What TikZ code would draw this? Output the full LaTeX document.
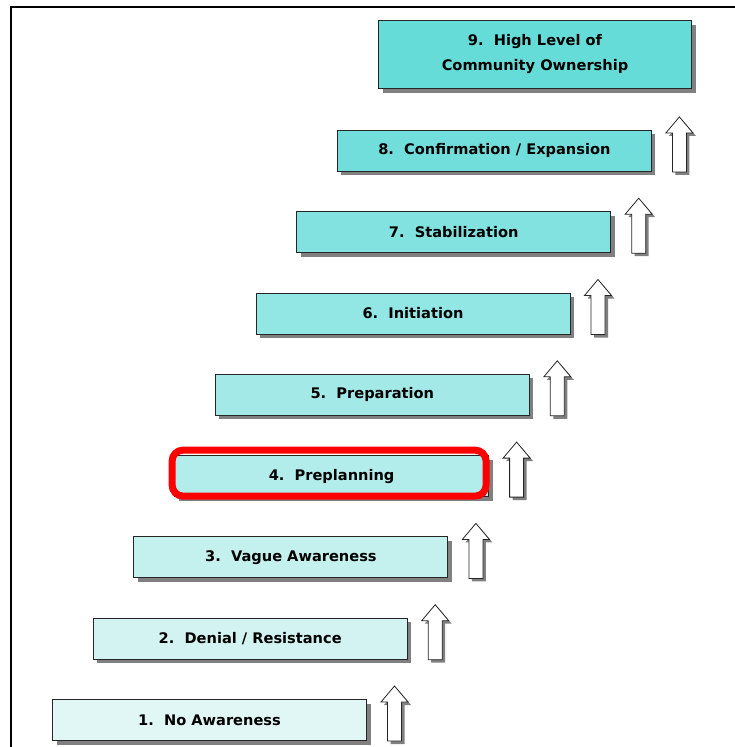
\documentclass[tikz,border=0pt]{standalone}
\usepackage{fontspec}
\setmainfont{DejaVu Sans}
\usetikzlibrary{shadows}
\definecolor{c1}{HTML}{E0F7F6}
\definecolor{c2}{HTML}{D2F3F2}
\definecolor{c3}{HTML}{C4F0EE}
\definecolor{c4}{HTML}{B2ECEB}
\definecolor{c5}{HTML}{A2E9E7}
\definecolor{c6}{HTML}{92E6E4}
\definecolor{c7}{HTML}{82E2E0}
\definecolor{c8}{HTML}{72DEDC}
\definecolor{c9}{HTML}{66DCD9}
\definecolor{shadowgray}{HTML}{808080}
\tikzset{
  stage/.style={draw=black!85, line width=1pt, anchor=north west,
    minimum width=314pt, minimum height=41pt, inner sep=0pt,
    font=\bfseries\fontsize{14.6}{25}\selectfont, align=center,
    drop shadow={shadow xshift=4pt, shadow yshift=-4pt, opacity=1, fill=shadowgray}},
  uparrow/.style={draw=black!85, line width=0.8pt, fill=white, line join=miter,
    drop shadow={shadow xshift=3pt, shadow yshift=-3pt, opacity=1, fill=shadowgray}},
  focus/.style={draw=red, line width=7pt, rounded corners=11pt}
}
\begin{document}
\begin{tikzpicture}[x=1pt,y=-1pt]
\useasboundingbox (0,0) rectangle (734,747);
% outer frame
\draw[line width=2pt] (11,760) -- (11,7) -- (750,7);
% stages
\foreach \i/\txt in {1/{1.\ \ No Awareness},2/{2.\ \ Denial / Resistance},3/{3.\ \ Vague Awareness},
  4/{4.\ \ Preplanning},5/{5.\ \ Preparation},6/{6.\ \ Initiation},7/{7.\ \ Stabilization},
  8/{8.\ \ Confirmation / Expansion}}{
  \pgfmathsetmacro{\bx}{52+(\i-1)*40.7}
  \pgfmathsetmacro{\by}{699-(\i-1)*81.3}
  \node[stage, fill=c\i] (s\i) at (\bx,\by) {\txt};
  % step arrow beside each stage
  \pgfmathsetmacro{\ax}{\bx+329}
  \pgfmathsetmacro{\ay}{\by-13}
  \path[uparrow] (\ax+6.5,\ay+55) -- (\ax+6.5,\ay+16) -- (\ax,\ay+16) -- (\ax+13.5,\ay)
     -- (\ax+27,\ay+16) -- (\ax+20.5,\ay+16) -- (\ax+20.5,\ay+55) -- cycle;
}
\node[stage, fill=c9, minimum width=313pt, minimum height=68pt] (s9) at (378,20)
  {9.\ \ High Level of\\Community Ownership};
% highlighted current stage
\draw[focus] ([xshift=-2pt,yshift=5pt]s4.north west) rectangle ([xshift=-3pt,yshift=1pt]s4.south east);
\end{tikzpicture}
\end{document}
